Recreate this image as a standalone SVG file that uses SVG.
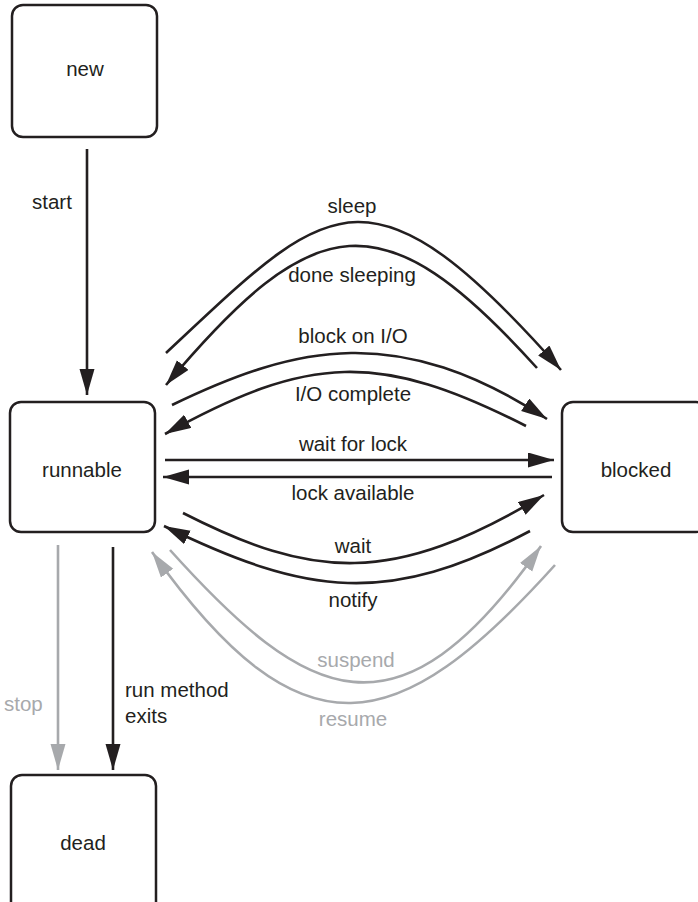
<svg xmlns="http://www.w3.org/2000/svg" width="698" height="902" viewBox="0 0 698 902">
<defs>
<style>
.box{fill:#fff;stroke:#231f20;stroke-width:2.5}
.lbl{font-family:"Liberation Sans",Arial,sans-serif;font-size:20.5px;fill:#231f20}
.c{text-anchor:middle}
.g{fill:#a7a9ac}
.edge{fill:none;stroke:#231f20;stroke-width:2.6;marker-end:url(#ah)}
.gedge{fill:none;stroke:#a7a9ac;stroke-width:2.6;marker-end:url(#ahg)}
</style>
<marker id="ah" markerUnits="userSpaceOnUse" markerWidth="28" markerHeight="16" refX="26" refY="7.5" orient="auto"><path d="M0,0 L26,7.5 L0,15 z" fill="#231f20"/></marker>
<marker id="ahg" markerUnits="userSpaceOnUse" markerWidth="28" markerHeight="16" refX="26" refY="7.5" orient="auto"><path d="M0,0 L26,7.5 L0,15 z" fill="#a7a9ac"/></marker>
</defs>
<rect width="698" height="902" fill="#fff"/>
<g id="connectors">
<path class="edge" d="M87,149 L87,395"/>
<path class="edge" d="M166,353 C326.8,203 366,149 561,370"/>
<path class="edge" d="M537,368 C382.7,196.7 314.3,208.4 166,385"/>
<path class="edge" d="M172,405 C298,344.1 398.5,322.5 547,419"/>
<path class="edge" d="M526,426 C379.3,351.2 309.1,354.1 165,434"/>
<path class="edge" d="M165,460 L554,460"/>
<path class="edge" d="M552,477 L163,477"/>
<path class="edge" d="M183,513 C312.2,578.8 391.5,586.7 544,495"/>
<path class="edge" d="M530,531 C388.5,606.1 308,596.2 164,526"/>
<path class="gedge" d="M170,550 C307.1,702.3 397.5,750.8 541,546"/>
<path class="gedge" d="M555,565 C397.8,739.6 302.2,762.8 152,552"/>
<path class="gedge" d="M58,545 L58,770"/>
<path class="edge" d="M113,547 L113,770"/>
<text class="lbl" x="32" y="209">start</text>
<text class="lbl c" x="352" y="213">sleep</text>
<text class="lbl c" x="352" y="282">done sleeping</text>
<text class="lbl c" x="353" y="343">block on I/O</text>
<text class="lbl c" x="353" y="401">I/O complete</text>
<text class="lbl c" x="353" y="451">wait for lock</text>
<text class="lbl c" x="353" y="500">lock available</text>
<text class="lbl c" x="353" y="553">wait</text>
<text class="lbl c" x="353" y="607">notify</text>
<text class="lbl c g" x="356" y="667">suspend</text>
<text class="lbl c g" x="353" y="726">resume</text>
<text class="lbl g" x="4" y="711">stop</text>
<text class="lbl" x="125" y="697">run method</text>
<text class="lbl" x="125" y="723">exits</text>
</g>
<g id="new">
<rect class="box" x="12" y="5" width="145" height="132" rx="11"/>
<text class="lbl c" x="85" y="76">new</text>
</g>
<g id="runnable">
<rect class="box" x="10" y="402" width="145" height="130" rx="11"/>
<text class="lbl c" x="82" y="477">runnable</text>
</g>
<g id="blocked">
<rect class="box" x="562" y="402" width="145" height="130" rx="11"/>
<text class="lbl c" x="636" y="477">blocked</text>
</g>
<g id="dead">
<rect class="box" x="11" y="775" width="145" height="140" rx="11"/>
<text class="lbl c" x="83" y="850">dead</text>
</g>
</svg>
